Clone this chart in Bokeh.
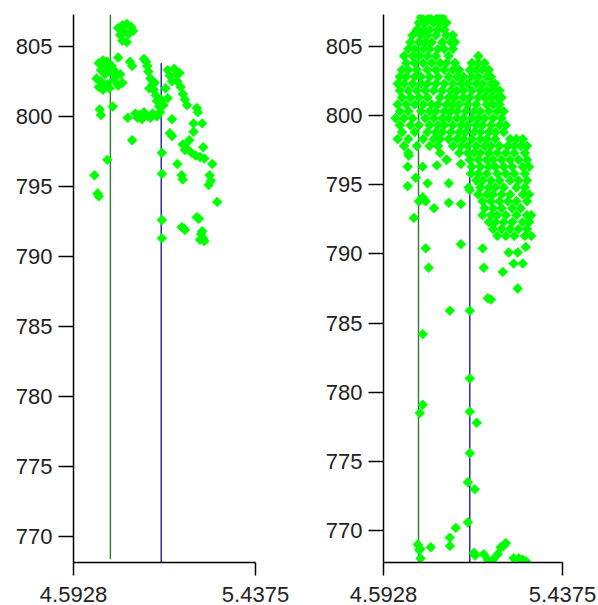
from bokeh.plotting import figure
from bokeh.layouts import row
from bokeh.models import FixedTicker, PrintfTickFormatter, Range1d
from bokeh.embed import file_html
from bokeh.resources import INLINE

# ---------------- data ----------------
x_ticks = [4.5928, 5.4375]
y_ticks = [770, 775, 780, 785, 790, 795, 800, 805]

green_line_x = [4.764, 4.758]
blue_line_x = [5.0, 5.0]
blue_line_top = 803.8

left_x = [4.80, 4.82, 4.84, 4.86, 4.83, 4.81, 4.85, 4.82, 4.84, 4.87,
          4.71, 4.73, 4.75, 4.77, 4.72, 4.74, 4.76, 4.70, 4.72, 4.75, 4.78, 4.71, 4.73, 4.76, 4.79, 4.74, 4.78,
          4.715, 4.72, 4.775, 4.75, 4.69, 4.705, 4.71,
          4.80, 4.81, 4.82, 4.80, 4.855, 4.865, 4.845, 4.865,
          4.92, 4.93, 4.935, 4.94, 4.95, 4.945, 4.96, 4.97, 4.965, 4.975, 4.98, 4.99, 4.995,
          4.88, 4.89, 4.90, 4.91, 4.92, 4.94, 4.95, 4.96, 4.98,
          5.00, 5.03, 5.01, 5.02,
          5.003, 5.003, 5.003, 5.003,
          5.03, 5.04, 5.06, 5.07, 5.075, 5.09, 5.10, 5.11, 5.12, 5.05, 5.085,
          5.05, 5.04, 5.05, 5.075, 5.095, 5.10,
          5.10, 5.11, 5.12, 5.13, 5.14, 5.16, 5.18, 5.20, 5.195,
          5.165, 5.17, 5.15, 5.19, 5.15,
          5.237, 5.225, 5.23, 5.22, 5.26,
          5.095, 5.105, 5.11, 5.165, 5.175, 5.18, 5.185, 5.19, 5.195, 5.20]
left_y = [806.3, 806.5, 806.6, 806.4, 806.0, 805.8, 805.9, 805.4, 805.3, 806.1,
          803.8, 804.0, 803.9, 803.6, 803.3, 803.0, 803.2, 802.7, 802.5, 802.3, 802.6, 802.1, 801.9, 802.0, 802.9, 803.6, 803.3,
          800.5, 800.1, 800.7, 796.9, 795.8, 794.5, 794.3,
          804.2, 803.0, 802.4, 802.2, 803.9, 803.6, 799.9, 798.3,
          804.1, 803.9, 803.6, 803.2, 802.7, 802.0, 802.3, 802.4, 801.9, 801.5, 801.1, 800.7, 800.3,
          800.2, 799.9, 800.1, 799.8, 800.3, 800.0, 799.9, 800.2, 800.0,
          801.2, 801.3, 800.8, 802.0,
          797.4, 795.9, 792.6, 791.3,
          803.3, 802.9, 803.4, 803.0, 802.5, 802.1, 801.6, 801.2, 800.8, 802.5, 803.1,
          799.8, 798.8, 798.6, 796.6, 795.8, 795.5,
          798.0, 797.6, 797.7, 798.3, 797.4, 797.2, 797.1, 797.0, 797.8,
          800.6, 800.3, 799.5, 799.5, 798.9,
          796.6, 795.8, 795.4, 795.1, 793.9,
          792.1, 792.0, 791.9, 792.8, 792.7, 791.2, 791.6, 791.8, 791.3, 791.1]

# right panel: dense body, one y value per row with its x values
right_row_y = [807.1, 806.7, 806.2, 805.8, 805.3, 804.8, 804.3, 803.8, 803.3, 802.8,
               802.3, 801.8, 801.3, 800.8, 800.3, 799.8, 799.3, 798.8, 798.3, 797.8,
               797.3, 796.8, 796.3, 795.8, 795.3, 794.8, 794.3, 793.8, 793.3, 792.8,
               792.3, 791.8, 791.3]
right_row_x = [
    [4.77, 4.81, 4.85, 4.87],
    [4.76, 4.79, 4.83, 4.86, 4.89],
    [4.75, 4.78, 4.81, 4.85, 4.88],
    [4.73, 4.77, 4.80, 4.84, 4.89, 4.92],
    [4.72, 4.76, 4.79, 4.82, 4.87, 4.91, 4.93],
    [4.71, 4.74, 4.78, 4.81, 4.85, 4.88, 4.92],
    [4.69, 4.73, 4.76, 4.80, 4.84, 4.90, 5.04],
    [4.70, 4.74, 4.78, 4.82, 4.86, 4.89, 4.93, 5.01, 5.04, 5.07],
    [4.68, 4.71, 4.75, 4.80, 4.84, 4.88, 4.92, 4.95, 5.00, 5.03, 5.06, 5.09],
    [4.67, 4.70, 4.74, 4.77, 4.81, 4.85, 4.90, 4.94, 4.97, 5.01, 5.04, 5.08, 5.10],
    [4.66, 4.69, 4.73, 4.77, 4.80, 4.84, 4.88, 4.92, 4.96, 4.99, 5.03, 5.06, 5.10, 5.12],
    [4.67, 4.71, 4.75, 4.79, 4.83, 4.87, 4.91, 4.94, 4.97, 5.01, 5.05, 5.08, 5.11, 5.14],
    [4.68, 4.72, 4.76, 4.80, 4.86, 4.90, 4.93, 4.97, 5.00, 5.04, 5.07, 5.10, 5.13, 5.15],
    [4.66, 4.70, 4.74, 4.78, 4.82, 4.85, 4.89, 4.92, 4.95, 4.99, 5.03, 5.08, 5.11, 5.14],
    [4.67, 4.71, 4.77, 4.81, 4.84, 4.88, 4.91, 4.94, 4.98, 5.02, 5.05, 5.09, 5.13, 5.16],
    [4.65, 4.69, 4.73, 4.79, 4.83, 4.87, 4.90, 4.94, 4.97, 5.01, 5.04, 5.07, 5.11, 5.15],
    [4.67, 4.72, 4.76, 4.81, 4.85, 4.88, 4.92, 4.96, 4.99, 5.03, 5.06, 5.10, 5.14, 5.17],
    [4.68, 4.74, 4.80, 4.84, 4.87, 4.91, 4.95, 4.98, 5.02, 5.05, 5.09, 5.12, 5.16],
    [4.66, 4.71, 4.78, 4.83, 4.86, 4.90, 4.94, 4.97, 5.01, 5.05, 5.08, 5.12, 5.19, 5.22, 5.25],
    [4.69, 4.75, 4.81, 4.85, 4.92, 4.96, 4.99, 5.03, 5.07, 5.10, 5.14, 5.18, 5.21, 5.24, 5.27],
    [4.71, 4.86, 4.95, 4.99, 5.02, 5.05, 5.09, 5.13, 5.17, 5.21, 5.26],
    [4.89, 5.00, 5.04, 5.08, 5.11, 5.15, 5.19, 5.23, 5.27],
    [5.01, 5.05, 5.09, 5.12, 5.16, 5.20, 5.25, 5.28],
    [5.04, 5.08, 5.13, 5.17, 5.21, 5.26],
    [5.03, 5.06, 5.10, 5.14, 5.19, 5.23, 5.27],
    [5.05, 5.09, 5.12, 5.16, 5.22, 5.26],
    [5.04, 5.08, 5.11, 5.15, 5.19, 5.25, 5.28],
    [5.06, 5.10, 5.14, 5.18, 5.22, 5.27],
    [5.07, 5.11, 5.15, 5.20, 5.24],
    [5.06, 5.10, 5.13, 5.17, 5.22, 5.27, 5.29],
    [5.09, 5.12, 5.16, 5.20, 5.25, 5.28],
    [5.11, 5.15, 5.19, 5.23, 5.27],
    [5.13, 5.17, 5.21, 5.26, 5.29],
]

right_sparse_x = [4.712, 4.707, 4.707, 4.745, 4.778, 4.801, 4.778, 4.760, 4.792, 4.736,
                  4.831, 4.845, 4.891, 4.901, 4.901, 4.958, 4.958, 4.792, 4.806, 4.958,
                  5.005, 4.995, 5.000, 5.061, 5.066, 5.085, 5.100, 5.156, 5.184, 5.226,
                  5.207, 5.250, 5.226, 5.264,
                  4.906, 5.000, 4.778, 4.778, 4.764, 5.000, 5.000, 5.033, 5.000, 4.991,
                  5.023, 4.991, 4.934, 4.906, 4.906, 4.755, 4.762, 4.768, 4.816, 4.766,
                  5.020, 5.025, 5.066, 5.085, 5.109, 5.132, 5.146, 5.170, 5.160, 5.207,
                  5.231, 5.264, 5.250]
right_sparse_y = [797.1, 796.3, 794.9, 795.5, 796.3, 795.1, 794.1, 793.8, 793.8, 792.6,
                  793.3, 796.4, 796.8, 795.1, 793.7, 796.5, 793.6, 790.4, 789.0, 790.7,
                  795.8, 794.8, 794.6, 790.4, 789.0, 786.8, 786.7, 788.7, 790.1, 790.1,
                  789.3, 789.3, 787.5, 790.5,
                  785.9, 785.9, 784.2, 779.1, 778.5, 781.0, 778.6, 777.8, 775.6, 773.5,
                  773.0, 770.6, 770.2, 769.5, 768.9, 769.0, 768.6, 768.0, 768.8, 768.7,
                  768.4, 768.2, 768.3, 767.9, 767.9, 768.3, 768.8, 769.1, 768.9, 768.0,
                  768.0, 767.8, 767.9]

# ---------------- build ----------------
right_x = [x for xs in right_row_x for x in xs] + right_sparse_x
right_y = [y for y, xs in zip(right_row_y, right_row_x) for _ in xs] + right_sparse_y

FONT = "Liberation Sans"
FIG_H = 615


def make_panel(xs, ys, y_lo, y_hi, green_x, green_bottom, frame_h, top, left, right, plot_w):
    p = figure(width=plot_w, height=FIG_H, output_backend="svg", toolbar_location=None,
               x_range=Range1d(x_ticks[0], x_ticks[1]), y_range=Range1d(y_lo, y_hi),
               min_border_left=left, min_border_right=right, min_border_top=top,
               min_border_bottom=FIG_H - top - frame_h)
    p.outline_line_color = None
    p.xgrid.grid_line_color = None
    p.ygrid.grid_line_color = None
    p.background_fill_color = "white"
    p.border_fill_color = "white"

    # reference lines
    p.segment(x0=[green_x], y0=[green_bottom], x1=[green_x], y1=[y_hi],
              line_color="#2e7d2e", line_width=1.4)
    p.segment(x0=[blue_line_x[0]], y0=[y_lo], x1=[blue_line_x[1]], y1=[blue_line_top],
              line_color="#1f1f9e", line_width=1.4)

    p.scatter(xs, ys, marker="square", angle=0.785398, size=7.0,
              fill_color="#00ff00", line_color="#00ff00", line_width=0.6)

    for ax in (p.xaxis[0], p.yaxis[0]):
        ax.axis_line_color = "black"
        ax.axis_line_width = 1.5
        ax.major_tick_line_color = "black"
        ax.major_tick_line_width = 1.5
        ax.major_tick_in = 0
        ax.minor_tick_line_color = None
        ax.major_label_text_font = FONT
        ax.major_label_text_font_size = "22px"
        ax.major_label_text_color = "#222222"

    p.xaxis.ticker = FixedTicker(ticks=x_ticks)
    p.xaxis.formatter = PrintfTickFormatter(format="%.4f")
    p.xaxis.major_tick_out = 13
    p.xaxis.major_label_standoff = 11

    p.yaxis.ticker = FixedTicker(ticks=y_ticks)
    p.yaxis.major_tick_out = 15
    p.yaxis.major_label_standoff = 6
    return p


p1 = make_panel(left_x, left_y, 768.17, 807.27, green_line_x[0], 768.4,
                551, 12, 73, 45, 300)
p2 = make_panel(right_x, right_y, 767.7, 807.3, green_line_x[1], 767.75,
                548, 14, 83, 36, 298)

layout = row(p1, p2, spacing=0)

html = file_html(layout, INLINE)
html = html.replace("</head>", "<style>html, body { overflow: hidden; }</style>\n</head>", 1)
open("out.html", "w").write(html)
